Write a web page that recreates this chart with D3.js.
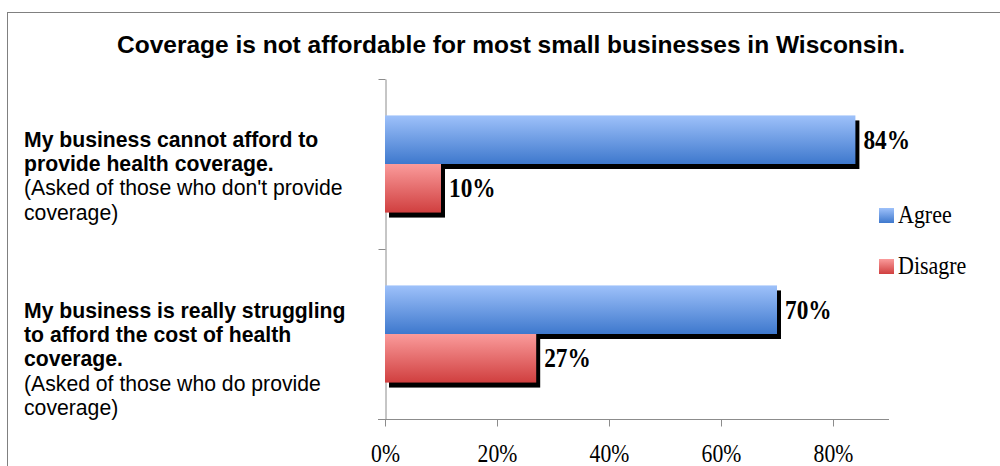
<!DOCTYPE html>
<html><head><meta charset="utf-8">
<script src="https://cdn.jsdelivr.net/npm/d3@7"></script>
<style>body{margin:0;background:#fff}svg{display:block}</style>
</head><body><svg id="c" width="1000" height="466"></svg>
<script>
const title = "Coverage is not affordable for most small businesses in Wisconsin.";
const categories = ["cannot", "struggling"];
const categoryBold = [
  ["My business cannot afford to", "provide health coverage."],
  ["My business is really struggling", "to afford the cost of health", "coverage."]
];
const categoryNote = [
  ["(Asked of those who don't provide", "coverage)"],
  ["(Asked of those who do provide", "coverage)"]
];
const seriesNames = ["Agree", "Disagre"];
const agree = [0.84, 0.70];
const disagree = [0.10, 0.27];
const tickValues = [0, 0.2, 0.4, 0.6, 0.8];
const tickLabels = ["0%", "20%", "40%", "60%", "80%"];

const SERIF = "Liberation Serif, serif";
const SANS = "Liberation Sans, Arial, sans-serif";
const SY = 1.2; // vertical stretch of the serif labels

const svg = d3.select("#c");
const defs = svg.append("defs");
function grad(id, top, bot){
  const g = defs.append("linearGradient").attr("id", id).attr("x1",0).attr("y1",0).attr("x2",0).attr("y2",1);
  g.append("stop").attr("offset","0%").attr("stop-color",top);
  g.append("stop").attr("offset","100%").attr("stop-color",bot);
}
grad("gBlue", "#9ec1fa", "#3e78cd");
grad("gRed", "#fa9b9b", "#d03f3f");
const fills = ["url(#gBlue)", "url(#gRed)"];

// frame
svg.append("rect").attr("x",7.5).attr("y",12.5).attr("width",1000).attr("height",470)
  .attr("fill","none").attr("stroke","#808080");

svg.append("text").attr("x",511).attr("y",53).attr("text-anchor","middle")
  .attr("font-family",SANS).attr("font-weight","bold")
  .attr("font-size",24.5).attr("fill","#000").text(title);

const x = d3.scaleLinear().domain([0,0.9]).range([385,889]);
const y = d3.scaleBand().domain(categories).range([79,419]);
const ys = d3.scaleBand().domain(seriesNames).range([0,y.bandwidth()]).paddingInner(0).paddingOuter(0.75);

const data = categories.map((c,i)=>({c, vals:[agree[i], disagree[i]]}));

// value axis (bottom)
const xAxis = d3.axisBottom(x).tickValues(tickValues).tickFormat((d,i)=>tickLabels[i]).tickSize(7).tickSizeOuter(0);
const gx = svg.append("g").attr("transform","translate(0,419.5)").call(xAxis);
gx.select(".domain").attr("stroke","#8c8c8c").attr("d","M378,0H889");
gx.selectAll(".tick line").attr("stroke","#8c8c8c");
gx.selectAll(".tick text").attr("font-family",SERIF).attr("font-size",21.7).attr("fill","#000")
  .attr("y",0).attr("dy",0).attr("transform",`translate(0,42) scale(1,${SY})`);

// category axis (left)
const yAxis = d3.axisLeft(y).tickValues([]).tickSizeOuter(0);
const gy = svg.append("g").attr("transform","translate(385.5,0)").call(yAxis);
gy.select(".domain").attr("stroke","#8c8c8c");
const tickY = [y.range()[0], y(categories[1]), y.range()[1]];
gy.selectAll(".ctick").data(tickY).join("line").attr("class","ctick")
  .attr("x1",-7).attr("x2",0).attr("y1",d=>Math.round(d)+0.5).attr("y2",d=>Math.round(d)+0.5).attr("stroke","#8c8c8c");

// bars
const shadowDx = 4, shadowDy = 5;
seriesNames.forEach((s,si)=>{
  const g = svg.append("g");
  g.selectAll(".sh").data(data).join("rect").attr("class","sh")
    .attr("x", x(0)+shadowDx).attr("y", d=>y(d.c)+ys(s)+shadowDy)
    .attr("width", d=>x(d.vals[si])-x(0)).attr("height", ys.bandwidth()).attr("fill","#000");
  g.selectAll(".bar").data(data).join("rect").attr("class","bar")
    .attr("x", x(0)).attr("y", d=>y(d.c)+ys(s))
    .attr("width", d=>x(d.vals[si])-x(0)).attr("height", ys.bandwidth()).attr("fill", fills[si]);
});
seriesNames.forEach((s,si)=>{
  svg.append("g").selectAll("text").data(data).join("text")
    .attr("transform", d=>`translate(${x(d.vals[si])+8},${y(d.c)+ys(s)+ys.bandwidth()/2+9}) scale(1,${1.16})`)
    .attr("font-family",SERIF).attr("font-weight","bold").attr("font-size",23.3)
    .attr("fill","#000").text(d=>Math.round(d.vals[si]*100)+"%");
});

// category labels
const lh = 24.3;
categories.forEach((c,i)=>{
  const lines = categoryBold[i].map(t=>({t,b:true})).concat(categoryNote[i].map(t=>({t,b:false})));
  const startBase = i===0 ? 146.7 : 317.7;
  svg.append("g").selectAll("text").data(lines).join("text")
    .attr("x",24).attr("y",(d,j)=>startBase+j*lh)
    .attr("font-family",SANS).attr("font-size",21.2)
    .attr("font-weight",d=>d.b?"bold":"normal").attr("fill","#000").text(d=>d.t);
});

// legend
const lg = svg.append("g");
seriesNames.forEach((s,i)=>{
  const yy = 208 + i*51;
  lg.append("rect").attr("x",879).attr("y",yy).attr("width",15).attr("height",15).attr("fill",fills[i]);
  lg.append("text").attr("transform",`translate(898,${yy+15}) scale(1,1.16)`)
    .attr("font-family",SERIF).attr("font-size",22).attr("fill","#000").text(s);
});
</script></body></html>
